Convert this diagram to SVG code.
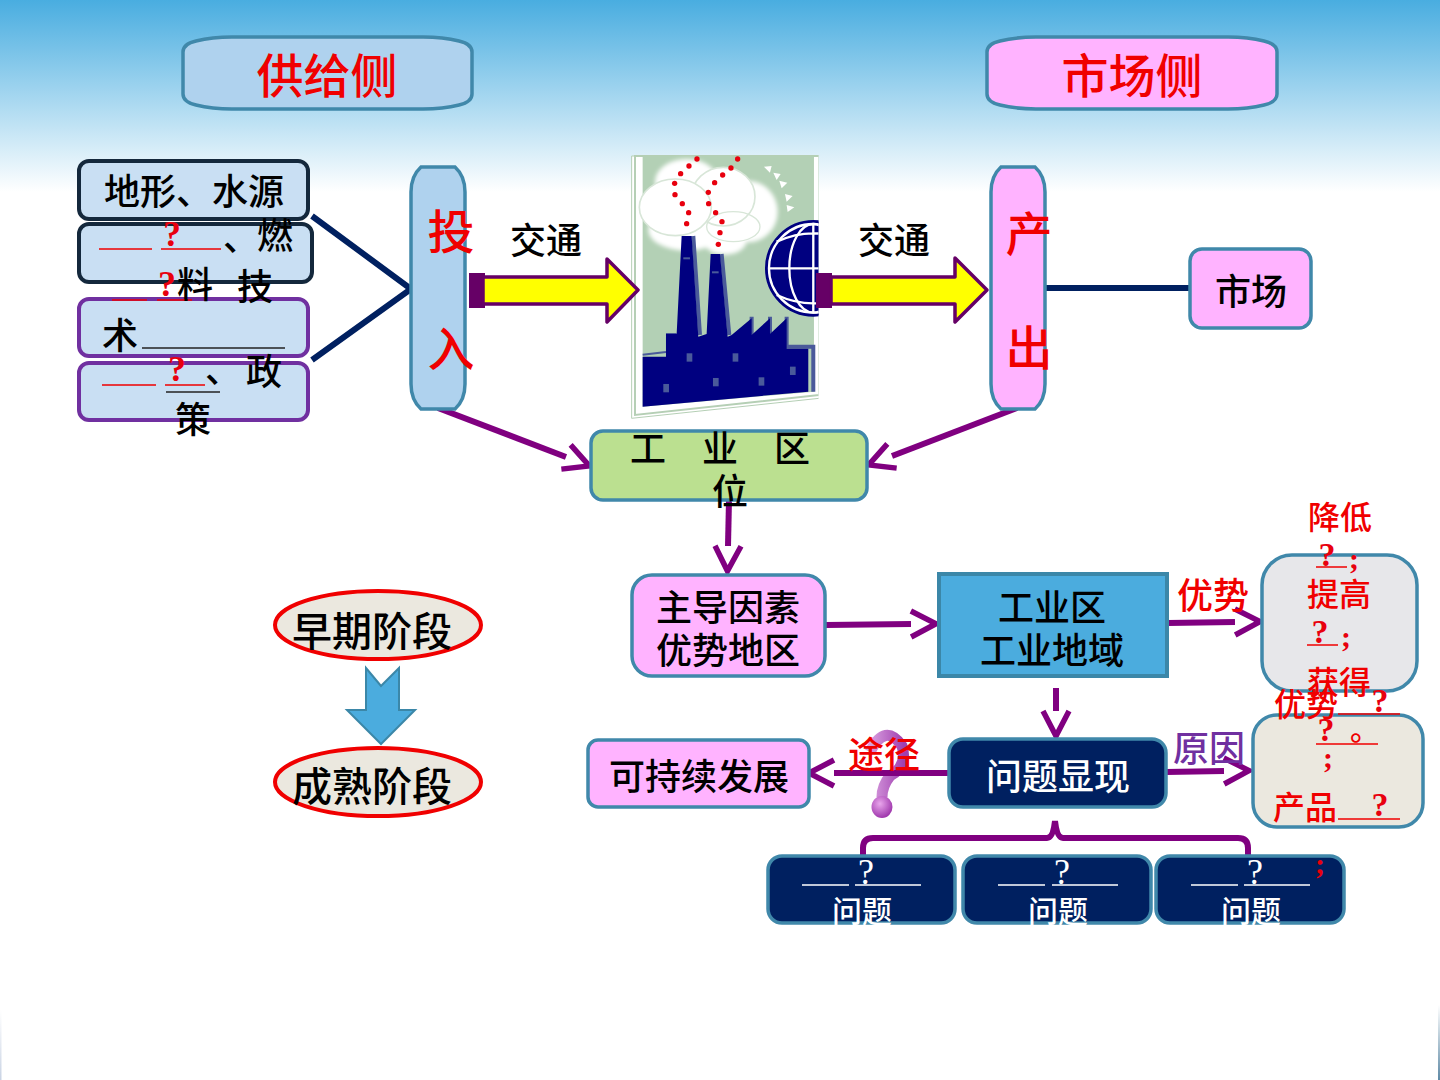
<svg xmlns="http://www.w3.org/2000/svg" width="1440" height="1080" viewBox="0 0 1440 1080">
<style>
text{font-family:"Noto Sans CJK SC","Liberation Sans",sans-serif;text-anchor:middle;dominant-baseline:central;fill:#000;font-weight:500}
text:not(.q){transform:translateY(-3px)}
.q{font-family:"Liberation Serif","Noto Sans CJK SC",serif;font-weight:700;fill:#e8000e}
.r{fill:#f00000}.w{fill:#fff}.p{fill:#7030a0}
.s47{font-size:47px}.s36{font-size:36px}.s32{font-size:32px}.s28{font-size:30px}
.tall{font-size:34px}
.q.w{font-weight:400;fill:#fff;font-size:36px}
.box{stroke:#4088aa;stroke-width:3.500}
.pink{fill:#ffb3ff}.blue{fill:#afd2ee}.navy{fill:#002060}.cream{fill:#ebe8df}
.u{stroke:#f00000;stroke-width:1.500;fill:none}.uk{stroke:#222;stroke-width:1.500;fill:none}.uw{stroke:#fff;stroke-width:1.500;fill:none}
.link{fill:none;stroke:#800080;stroke-width:6;marker-end:url(#chev)}
.bar{fill:none;stroke:#002060;stroke-width:6}
.fat{fill:#ffff00;stroke:#660066;stroke-width:3.500;stroke-linejoin:round}
.stem{fill:#660066}
</style>
<defs>
<linearGradient id="sky" x1="0" y1="0" x2="0" y2="1"><stop offset="0" stop-color="#49ade0"/><stop offset="1" stop-color="#fff"/></linearGradient>
<linearGradient id="edgeR" x1="0" y1="0" x2="0" y2="1"><stop offset="0" stop-color="#fff"/><stop offset="1" stop-color="#5f8aa6"/></linearGradient>
<linearGradient id="edgeL" x1="0" y1="0" x2="0" y2="1"><stop offset="0" stop-color="#fff"/><stop offset="1" stop-color="#c9d3e4"/></linearGradient>
<radialGradient id="ball" cx=".4" cy=".35" r=".7"><stop offset="0" stop-color="#e9a6ec"/><stop offset="1" stop-color="#9a2fa8"/></radialGradient>
<linearGradient id="hook" x1="0" y1="0" x2="1" y2="0"><stop offset="0" stop-color="#d9a0e0"/><stop offset="1" stop-color="#a040b0"/></linearGradient>
<filter id="soft" x="-30%" y="-30%" width="160%" height="160%"><feGaussianBlur stdDeviation="7"/></filter>
<clipPath id="pic"><rect x="620" y="150" width="198.500" height="280"/></clipPath>
<marker id="chev" markerUnits="userSpaceOnUse" viewBox="0 -16 30 32" refX="0" refY="0" markerWidth="30" markerHeight="32" orient="auto" overflow="visible">
<path d="M0,-13 L25,0 L0,13" fill="none" stroke="#800080" stroke-width="5.500"/>
</marker>
</defs>

<rect width="1440" height="1080" fill="#fff"/>
<rect width="1440" height="192" fill="url(#sky)"/>
<rect x="0" y="1010" width="1.500" height="70" fill="url(#edgeL)"/>
<rect x="1438" y="1005" width="2" height="75" fill="url(#edgeR)"/>

<g id="factory-picture" clip-path="url(#pic)">
<g transform="translate(460 150) scale(.3333)">
<polygon points="515,18 1078,18 1078,745 515,805" fill="#fff" stroke="#b5cfb5" stroke-width="3"/>
<polygon points="525,18 1078,18 1078,735 525,795" fill="none" stroke="#b5cfb5" stroke-width="6"/>
<polygon points="548,18 1062,18 1062,725 548,770" fill="#b3d0b5"/>
<g fill="#fff"><polygon points="912,50 935,48 930,68"/><polygon points="940,68 962,72 950,90"/><polygon points="958,92 982,98 965,115"/><polygon points="975,132 998,138 980,155"/><polygon points="980,165 1003,172 983,186"/></g>
<g fill="#fff" filter="url(#soft)"><ellipse cx="680" cy="95" rx="95" ry="68"/><ellipse cx="680" cy="240" rx="115" ry="62"/><ellipse cx="865" cy="185" rx="88" ry="92"/><ellipse cx="795" cy="272" rx="65" ry="42"/></g>
<ellipse cx="790" cy="140" rx="95" ry="88" fill="#fff" stroke="#d8e6d8" stroke-width="5"/>
<ellipse cx="646" cy="172" rx="108" ry="85" fill="#fff" stroke="#d8e6d8" stroke-width="5"/>
<ellipse cx="820" cy="230" rx="80" ry="45" fill="none" stroke="#d8e6d8" stroke-width="4"/>
<path d="M700,258 L720,555 M785,312 L808,555 M875,500 L875,555 M930,500 L930,552 M980,500 L980,590 L1060,590 L1060,725" fill="none" stroke="#4a5a9a" stroke-width="12"/>
<path d="M548,614 L618,606 M618,552 L650,552" fill="none" stroke="#4a5a9a" stroke-width="6"/>
<polygon fill="#000080" points="548,770 548,620 618,620 618,552 650,552 665,258 695,258 715,560 740,552 752,312 780,312 803,560 815,555 875,505 875,555 930,505 930,552 980,505 980,596 1045,596 1045,725"/>
<g fill="#4a5a9a"><rect x="610" y="702" width="17" height="25"/><rect x="680" y="610" width="17" height="25"/><rect x="759" y="684" width="17" height="25"/><rect x="818" y="610" width="17" height="25"/><rect x="896" y="682" width="17" height="25"/><rect x="990" y="650" width="17" height="25"/><rect x="670" y="322" width="20" height="6"/><rect x="756" y="364" width="20" height="6"/></g>
<g fill="#e8000e"><circle cx="711" cy="27" r="8"/><circle cx="687" cy="48" r="8"/><circle cx="662" cy="71" r="8"/><circle cx="644" cy="100" r="8"/><circle cx="645" cy="134" r="8"/><circle cx="667" cy="161" r="8"/><circle cx="686" cy="188" r="8"/><circle cx="680" cy="221" r="8"/><circle cx="833" cy="27" r="8"/><circle cx="813" cy="54" r="8"/><circle cx="788" cy="75" r="8"/><circle cx="764" cy="98" r="8"/><circle cx="745" cy="127" r="8"/><circle cx="746" cy="161" r="8"/><circle cx="767" cy="188" r="8"/><circle cx="786" cy="215" r="8"/><circle cx="780" cy="248" r="8"/><circle cx="775" cy="283" r="8"/></g>
<g fill="none"><circle cx="1060" cy="355" r="141" fill="#000080" stroke="#000080" stroke-width="8"/><circle cx="1060" cy="355" r="133" stroke="#fff" stroke-width="7"/><ellipse cx="1060" cy="355" rx="72" ry="133" stroke="#fff" stroke-width="7"/><path d="M1060,223 V487 M928,355 H1192 M950,275 Q1060,225 1170,275 M950,435 Q1060,485 1170,435" stroke="#fff" stroke-width="7"/></g>
</g>
</g>

<g id="connectors">
<path class="bar" d="M312,216 L411,289 L312,360"/>
<path class="bar" d="M1045,288 H1190"/>
<path d="M870,752 Q885,722 902,746 Q908,766 890,776 Q882,786 882,797" fill="none" stroke="url(#hook)" stroke-width="11"/>
<ellipse cx="882" cy="807" rx="10.500" ry="11" fill="url(#ball)"/>
<path class="link" d="M438,408 L566,457"/>
<path class="link" d="M1017,408 L892,456"/>
<path class="link" d="M729,500 L728,546"/>
<path class="link" d="M826,625 L911,624"/>
<path class="link" d="M1168,623 L1235,622"/>
<path class="link" d="M950,773 L834,773"/>
<path class="link" d="M1166,772 L1224,771"/>
<path class="link" d="M1056,688 L1056,711"/>
<path d="M863,856 V848 Q863,838 873,838 H1047 Q1053,838 1055,821 Q1057,838 1063,838 H1238 Q1248,838 1248,848 V856" fill="none" stroke="#800080" stroke-width="6"/>
</g>

<g id="arrow-in"><rect class="stem" x="469" y="273" width="16" height="35"/><polygon class="fat" points="483,277 607,277 607,259 638,290 607,322 607,304 483,304"/></g>
<g id="arrow-out"><rect class="stem" x="816" y="273" width="16" height="35"/><polygon class="fat" points="831,277 955,277 955,258 987,290 955,322 955,304 831,304"/></g>
<text class="s36" x="546" y="241">交通</text>
<text class="s36" x="894" y="241">交通</text>

<g id="supply-header"><path class="box blue" d="M183,52 Q183,44 196,41 Q212,37 232,37 H423 Q443,37 459,41 Q472,44 472,52 V94 Q472,102 459,105 Q443,109 423,109 H232 Q212,109 196,105 Q183,102 183,94 Z"/><text class="s47 r" x="327" y="75">供给侧</text></g>
<g id="market-header"><path class="box pink" d="M987,52 Q987,44 1000,41 Q1016,37 1036,37 H1228 Q1248,37 1264,41 Q1277,44 1277,52 V94 Q1277,102 1264,105 Q1248,109 1228,109 H1036 Q1016,109 1000,105 Q987,102 987,94 Z"/><text class="s47 r" x="1132" y="75">市场侧</text></g>

<g id="node-terrain"><rect x="79" y="161" width="229" height="58" rx="10" fill="#c9dff3" stroke="#14283c" stroke-width="4"/><text class="s36" x="194" y="192">地形、水源</text></g>
<g id="node-fuel"><rect x="79" y="224" width="233" height="58" rx="10" fill="#c9dff3" stroke="#14283c" stroke-width="4"/>
<text class="q s36" x="172" y="234">?</text><path class="u" d="M99,249 H152 M161,249 H221"/><text class="s36" x="241" y="238">、</text><text class="s36" x="275" y="236">燃</text></g>
<g id="node-tech"><rect x="79" y="299" width="229" height="57" rx="10" fill="#c9dff3" stroke="#7030a0" stroke-width="4"/>
<text class="q s36" x="167" y="284">?</text><path class="u" d="M112,300 H147 M157,300 H192"/><text class="s36" x="195" y="285">料</text><text class="s36" x="255" y="287">技</text><text class="s36" x="120" y="336">术</text><path class="uk" d="M142,348 H285"/></g>
<g id="node-policy"><rect x="79" y="363" width="229" height="57" rx="10" fill="#c9dff3" stroke="#7030a0" stroke-width="4"/>
<text class="q s36" x="177" y="369">?</text><path class="u" d="M102,385 H156 M165,385 H205"/><path class="uk" d="M166,392 H220"/><text class="s36" x="223" y="370">、</text><text class="s36" x="264" y="372">政</text><text class="s36" x="193" y="420">策</text></g>

<g id="node-input"><path class="box blue" d="M421,167 H455 Q465,176 465,192 V384 Q465,400 455,409 H421 Q411,400 411,384 V192 Q411,176 421,167 Z"/><text class="s47 r" x="451" y="231">投</text><text class="s47 r" x="451" y="348">入</text></g>
<g id="node-output"><path class="box pink" d="M1001,167 H1035 Q1045,176 1045,192 V384 Q1045,400 1035,409 H1001 Q991,400 991,384 V192 Q991,176 1001,167 Z"/><text class="s47 r" x="1029" y="233">产</text><text class="s47 r" x="1029" y="347">出</text></g>
<g id="node-market"><rect class="box pink" x="1190" y="249" width="121" height="79" rx="12"/><text class="s36" x="1251" y="292">市场</text></g>

<g id="node-location"><rect class="box" x="591" y="431" width="276" height="69" rx="12" fill="#bbe090"/><text class="s36" x="648" y="449">工</text><text class="s36" x="720" y="449">业</text><text class="s36" x="792" y="449">区</text><text class="s36" x="730" y="492">位</text></g>
<g id="node-factor"><rect class="box pink" x="632" y="575" width="193" height="101" rx="20"/><text class="s36" x="728" y="608">主导因素</text><text class="s36" x="728" y="651">优势地区</text></g>
<g id="node-region"><rect x="939" y="574" width="228" height="102" fill="#4bacde" stroke="#3b87a8" stroke-width="4"/><text class="s36" x="1052" y="608">工业区</text><text class="s36" x="1052" y="651">工业地域</text></g>
<text class="s36 r" x="1213" y="596">优势</text>

<g id="node-advantage"><rect class="box" x="1262" y="555" width="155" height="136" rx="30" fill="#e7e7ea"/>
<text class="s32 r" x="1340" y="518">降低</text><text class="q tall" x="1327" y="554">?</text><path class="u" d="M1316,567 H1347"/><text class="q s28" x="1354" y="558">;</text>
<text class="s32 r" x="1339" y="595">提高</text><text class="q tall" x="1320" y="631">?</text><path class="u" d="M1307,645 H1338"/><text class="q s28" x="1346" y="636">;</text>
<text class="s32 r" x="1339" y="683">获得</text></g>
<g id="node-cause"><rect class="box cream" x="1253" y="715" width="170" height="112" rx="24"/>
<text class="s32 r" x="1306" y="705">优势</text><text class="q tall" x="1380" y="700">?</text><path class="u" d="M1338,714 H1400"/>
<text class="q tall" x="1326" y="729">?</text><text class="s28 r" x="1365" y="730">。</text><path class="u" d="M1316,744 H1378"/><text class="q s28" x="1328" y="757">;</text>
<text class="s32 r" x="1305" y="808">产品</text><path class="u" d="M1338,819 H1400"/><text class="q tall" x="1380" y="804">?</text></g>

<text class="s36 r" x="884" y="755">途径</text>
<text class="s36 p" x="1209" y="749">原因</text>
<g id="node-sustain"><rect class="box pink" x="588" y="740" width="221" height="67" rx="10"/><text class="s36" x="699" y="777">可持续发展</text></g>
<g id="node-problem"><rect class="box navy" x="949" y="739" width="217" height="68" rx="14"/><text class="s36 w" x="1058" y="777">问题显现</text></g>

<g id="node-issue-1"><rect class="box navy" x="768" y="856" width="187" height="67" rx="14"/><text class="q w" x="866" y="872">?</text><path class="uw" d="M802,885 H849 M855,885 H921"/><text class="s28 w" x="862" y="912">问题</text></g>
<g id="node-issue-2"><rect class="box navy" x="963" y="856" width="188" height="67" rx="14"/><text class="q w" x="1062" y="872">?</text><path class="uw" d="M998,885 H1045 M1052,885 H1118"/><text class="s28 w" x="1058" y="912">问题</text></g>
<g id="node-issue-3"><rect class="box navy" x="1156" y="856" width="188" height="67" rx="14"/><text class="q w" x="1255" y="872">?</text><path class="uw" d="M1191,885 H1238 M1244,885 H1310"/><text class="s28 w" x="1251" y="912">问题</text><text class="q s28" x="1320" y="863">;</text></g>

<g id="node-early"><ellipse cx="378" cy="625" rx="103" ry="34" fill="#ebe8df" stroke="#f00000" stroke-width="4"/><text x="372" y="632" font-size="40">早期阶段</text></g>
<polygon id="stage-arrow" points="366,668 381,686 399,668 399,710 415,710 381,744 347,710 366,710" fill="#4bacde" stroke="#3b87a8" stroke-width="2"/>
<g id="node-mature"><ellipse cx="378" cy="782" rx="103" ry="34" fill="#ebe8df" stroke="#f00000" stroke-width="4"/><text x="372" y="787" font-size="40">成熟阶段</text></g>
</svg>
